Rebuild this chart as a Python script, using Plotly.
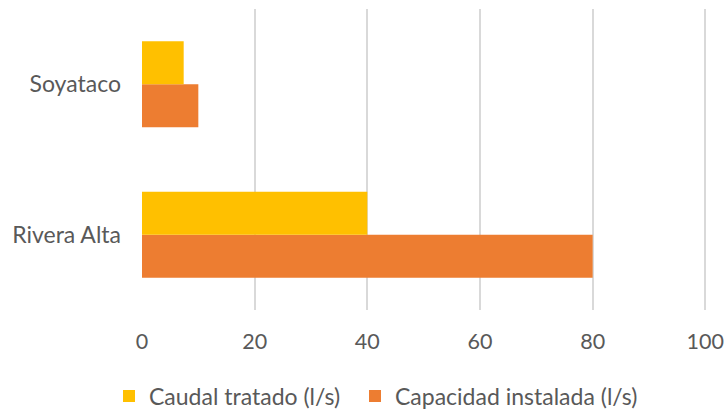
import plotly.graph_objects as go

# Plant names (bottom to top on the category axis)
plantas = ["Rivera Alta", "Soyataco"]
caudal_tratado = [40, 7.4]
capacidad_instalada = [80, 10]

x_ticks = [0, 20, 40, 60, 80, 100]

FONT = "Lato, Carlito, Calibri, sans-serif"
TEXT_COLOR = "#595959"
GRID = "#D9D9D9"
FS = 23
W, H = 724, 409

fig = go.Figure()
# Trace order puts the yellow bar above the orange one in each group
fig.add_trace(go.Bar(
    y=plantas, x=capacidad_instalada, orientation="h",
    name="Capacidad instalada (l/s)", marker=dict(color="#ED7D31", line=dict(width=0)),
    legend="legend2",
))
fig.add_trace(go.Bar(
    y=plantas, x=caudal_tratado, orientation="h",
    name="Caudal tratado (l/s)", marker=dict(color="#FFC000", line=dict(width=0)),
    legend="legend",
))

legend_common = dict(
    orientation="h", xref="container", yref="container",
    xanchor="left", y=13 / H, yanchor="middle",
    font=dict(size=FS, color=TEXT_COLOR), bgcolor="rgba(0,0,0,0)",
)

fig.update_layout(
    width=W, height=H,
    margin=dict(l=142, r=17.3, t=9, b=99, autoexpand=False),
    barmode="group", bargap=0.43, bargroupgap=0,
    plot_bgcolor="white", paper_bgcolor="white",
    font=dict(family=FONT, color=TEXT_COLOR, size=FS),
    showlegend=True,
    legend=dict(legend_common, x=109 / W),
    legend2=dict(legend_common, x=355 / W),
    xaxis=dict(
        # small headroom past 100 so the last gridline is not clipped at the edge
        range=[0, 100.3], tickvals=x_ticks, showgrid=True, gridcolor=GRID, gridwidth=1.5,
        zeroline=False, showline=False, ticks="", ticklabelstandoff=16,
        ticklabeloverflow="allow",
        tickfont=dict(size=21.5, color=TEXT_COLOR), automargin=False,
    ),
    yaxis=dict(
        showgrid=False, zeroline=False, showline=False, ticks="",
        ticklabelstandoff=20, tickfont=dict(size=FS, color=TEXT_COLOR), automargin=False,
    ),
)

fig.write_html("out.html")
